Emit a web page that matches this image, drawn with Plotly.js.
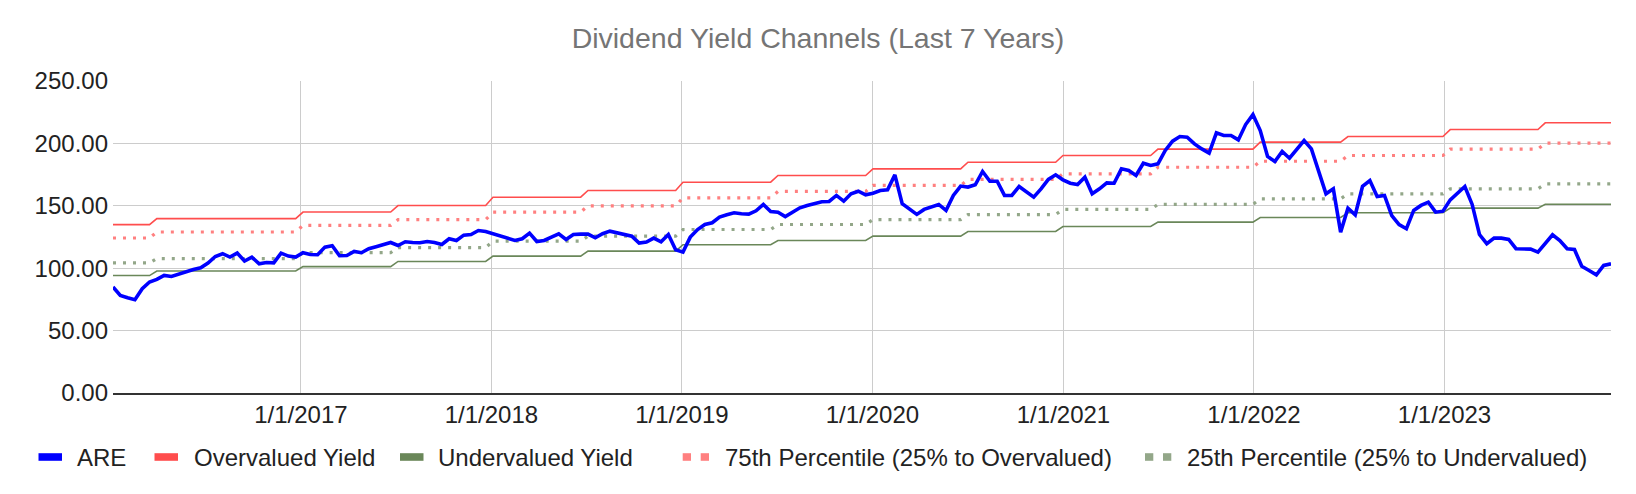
<!DOCTYPE html>
<html>
<head>
<meta charset="utf-8">
<script src="https://cdn.plot.ly/plotly-3.0.1.min.js"></script>
<style>
  html, body { margin: 0; padding: 0; background: #ffffff; }
  #chart { width: 1636px; height: 494px; }
</style>
</head>
<body>
<div id="chart"></div>
<script>
// ---------------- DATA ----------------
const chartTitle = "Dividend Yield Channels (Last 7 Years)";
const seriesNames = ["ARE", "Overvalued Yield", "Undervalued Yield",
  "75th Percentile (25% to Overvalued)", "25th Percentile (25% to Undervalued)"];
const seriesColors = ["#0000ff", "#ff4d4d", "#6a8759", "#ff8080", "#93a789"];

// biweekly observations
const startDate = "2016-01-07";
const stepDays = 14;

// ARE series (one value per biweekly observation)
const areValues = [
  84.9, 78.2, 76.3, 74.7, 83.5, 88.9, 91.0, 94.2, 93.4, 95.5,
  97.4, 99.0, 100.3, 104.1, 109.4, 111.6, 108.9, 112.1, 105.7, 108.9,
  103.5, 104.6, 104.3, 112.1, 109.7, 108.9, 112.4, 111.0, 110.8, 116.9,
  118.0, 110.0, 110.2, 113.4, 112.4, 115.6, 117.2, 118.8, 120.6, 118.2,
  121.2, 120.6, 120.4, 121.4, 120.6, 119.0, 123.6, 122.2, 126.5, 127.0,
  130.2, 129.4, 127.6, 126.2, 124.4, 122.2, 123.6, 128.1, 121.4, 122.2,
  124.9, 127.6, 123.0, 127.0, 127.3, 127.3, 124.4, 127.6, 129.7, 128.4,
  127.0, 125.7, 120.1, 120.9, 124.1, 121.2, 127.0, 114.8, 112.9, 124.9,
  131.0, 135.0, 136.4, 140.9, 142.8, 144.4, 143.6, 143.3, 146.0, 151.1,
  145.4, 144.9, 141.4, 144.9, 148.4, 150.3, 152.1, 153.2, 153.5, 158.3,
  153.7, 159.6, 161.7, 158.8, 160.1, 162.3, 162.8, 174.8, 151.6, 147.1,
  143.1, 147.1, 148.9, 151.1, 146.3, 158.3, 165.8, 165.0, 166.8, 177.5,
  169.7, 169.7, 158.3, 158.3, 165.5, 160.9, 156.9, 163.6, 171.1, 174.8,
  170.8, 168.1, 167.1, 172.9, 159.6, 163.6, 168.4, 168.1, 179.6, 178.3,
  174.3, 184.1, 182.3, 183.6, 194.3, 201.8, 205.5, 205.0, 199.6, 195.6,
  192.2, 208.4, 206.3, 206.3, 202.8, 215.1, 223.1, 210.3, 189.5, 185.5,
  193.5, 188.1, 194.8, 202.3, 195.6, 176.9, 159.6, 163.6, 128.9, 148.1,
  142.8, 165.7, 170.3, 157.5, 158.3, 142.2, 135.0, 131.6, 146.3, 150.3,
  152.9, 144.9, 145.7, 154.8, 160.4, 165.5, 151.1, 127.0, 119.6, 124.1,
  124.1, 123.0, 115.6, 115.3, 115.3, 112.9, 120.1, 126.8, 122.2, 115.6,
  115.0, 101.5, 98.2, 94.7, 102.2, 103.5
];

// channel levels: observation index at which each new level begins
const levelStartIndex = [0, 6, 26, 39, 52, 65, 78, 91, 104, 117, 130, 143, 157, 169, 183, 196];
const overvaluedLevels  = [134.9, 139.7, 145.0, 150.2, 156.9, 162.3, 168.9, 174.3, 179.6, 184.9, 190.3, 195.4, 201.0, 205.5, 211.1, 216.5];
const undervaluedLevels = [94.1, 97.8, 101.3, 105.4, 109.7, 113.7, 118.8, 122.2, 125.7, 129.4, 133.4, 136.9, 140.6, 144.4, 148.1, 151.3];
const pct75Levels       = [124.2, 129.0, 134.3, 138.9, 144.9, 150.0, 156.4, 161.5, 166.3, 171.1, 175.6, 180.9, 185.7, 190.3, 195.4, 200.2];
const pct25Levels       = [104.2, 107.7, 112.5, 116.5, 121.7, 125.7, 131.0, 135.0, 139.0, 143.0, 147.1, 151.1, 155.6, 159.6, 163.6, 167.6];

// axis ticks
const xTickDates  = ["2017-01-01", "2018-01-01", "2019-01-01", "2020-01-01", "2021-01-01", "2022-01-01", "2023-01-01"];
const xTickLabels = ["1/1/2017", "1/1/2018", "1/1/2019", "1/1/2020", "1/1/2021", "1/1/2022", "1/1/2023"];
const yTickVals   = [0, 50, 100, 150, 200, 250];
const yTickLabels = ["0.00", "50.00", "100.00", "150.00", "200.00", "250.00"];

// ---------------- BUILD ----------------
function isoDate(d) { return d.toISOString().slice(0, 10); }
const dates = [];
{
  const d0 = new Date(startDate + "T00:00:00Z");
  for (let i = 0; i < areValues.length; i++) {
    dates.push(isoDate(new Date(d0.getTime() + i * stepDays * 86400000)));
  }
}
function expandLevels(levels) {
  const out = [];
  let k = 0;
  for (let i = 0; i < areValues.length; i++) {
    while (k + 1 < levelStartIndex.length && i >= levelStartIndex[k + 1]) k++;
    out.push(levels[k]);
  }
  return out;
}

const FONT = "'Liberation Sans', Arial, sans-serif";
const DOT = "3px,7px";

// plotted series
const traces = [
  { x: dates, y: expandLevels(overvaluedLevels), name: seriesNames[1], type: "scatter", mode: "lines",
    line: { color: seriesColors[1], width: 1.6 }, showlegend: false },
  { x: dates, y: expandLevels(undervaluedLevels), name: seriesNames[2], type: "scatter", mode: "lines",
    line: { color: seriesColors[2], width: 1.6 }, showlegend: false },
  { x: dates, y: expandLevels(pct75Levels), name: seriesNames[3], type: "scatter", mode: "lines",
    line: { color: seriesColors[3], width: 3.2, dash: DOT }, showlegend: false },
  { x: dates, y: expandLevels(pct25Levels), name: seriesNames[4], type: "scatter", mode: "lines",
    line: { color: seriesColors[4], width: 3.2, dash: DOT }, showlegend: false },
  { x: dates, y: areValues, name: seriesNames[0], type: "scatter", mode: "lines",
    line: { color: seriesColors[0], width: 3.6 }, showlegend: false }
];

// ---- legend: Plotly legend text, one legend per entry; swatches drawn as shapes ----
const W = 1636, H = 494;
const M = { l: 113, r: 25, t: 81, b: 101 };
const PW = W - M.l - M.r, PH = H - M.t - M.b;
const px2paperX = px => (px - M.l) / PW;
const py2paperY = py => (H - M.b - py) / PH;

const legendIds = ["legend", "legend2", "legend3", "legend4", "legend5"];
const legendTextLeft = [77, 194, 438, 725, 1187];
const legendY = 457;
const swatchStart = [38.5, 154.5, 400, 682.7, 1145];
const swatchSolid = [true, true, true, false, false];

seriesNames.forEach((nm, i) => {
  traces.push({
    x: [dates[0]], y: [null], name: nm, type: "scatter", mode: "lines",
    line: { color: "rgba(0,0,0,0)", width: 0 },
    showlegend: true, legend: legendIds[i], hoverinfo: "skip"
  });
});

const shapes = [];
seriesNames.forEach((nm, i) => {
  const segs = swatchSolid[i] ? [[0, 23.5]] : [[0, 8.3], [18, 26.3]];
  segs.forEach(([a, b]) => {
    shapes.push({
      type: "rect", xref: "paper", yref: "paper", layer: "above",
      x0: px2paperX(swatchStart[i] + a), x1: px2paperX(swatchStart[i] + b),
      y0: py2paperY(legendY - 3.8), y1: py2paperY(legendY + 3.8),
      fillcolor: seriesColors[i], line: { width: 0 }
    });
  });
});

const layout = {
  width: W,
  height: H,
  paper_bgcolor: "#ffffff",
  plot_bgcolor: "#ffffff",
  margin: { l: M.l, r: M.r, t: M.t, b: M.b, pad: 0 },
  font: { family: FONT, size: 24, color: "#222222" },
  title: {
    text: chartTitle,
    font: { family: FONT, size: 28.5, color: "#757575" },
    x: 0.5, xref: "container", xanchor: "center",
    y: 1 - 38 / H, yref: "container", yanchor: "middle"
  },
  xaxis: {
    type: "date",
    range: [dates[0], dates[dates.length - 1]],
    tickmode: "array",
    tickvals: xTickDates,
    ticktext: xTickLabels,
    showgrid: true,
    gridcolor: "#cccccc",
    gridwidth: 1,
    zeroline: false,
    showline: true,
    linecolor: "#333333",
    linewidth: 1.5,
    ticks: "",
    tickfont: { family: FONT, size: 24, color: "#222222" },
    ticklabelstandoff: 0,
    fixedrange: true
  },
  yaxis: {
    range: [0, 250],
    tickmode: "array",
    tickvals: yTickVals,
    ticktext: yTickLabels,
    showgrid: true,
    gridcolor: "#cccccc",
    gridwidth: 1,
    zeroline: false,
    showline: false,
    ticks: "",
    tickfont: { family: FONT, size: 24, color: "#222222" },
    ticklabelstandoff: 4,
    fixedrange: true
  },
  shapes: shapes,
  showlegend: true,
  hovermode: false
};

legendIds.forEach((id, i) => {
  layout[id] = {
    orientation: "h",
    xref: "container", x: (legendTextLeft[i] - 40) / W, xanchor: "left",
    yref: "container", y: 1 - legendY / H, yanchor: "middle",
    font: { family: FONT, size: 24, color: "#222222" },
    itemwidth: 30,
    bgcolor: "rgba(0,0,0,0)",
    borderwidth: 0
  };
});

Plotly.newPlot("chart", traces, layout, { staticPlot: true, displayModeBar: false });
</script>
</body>
</html>
